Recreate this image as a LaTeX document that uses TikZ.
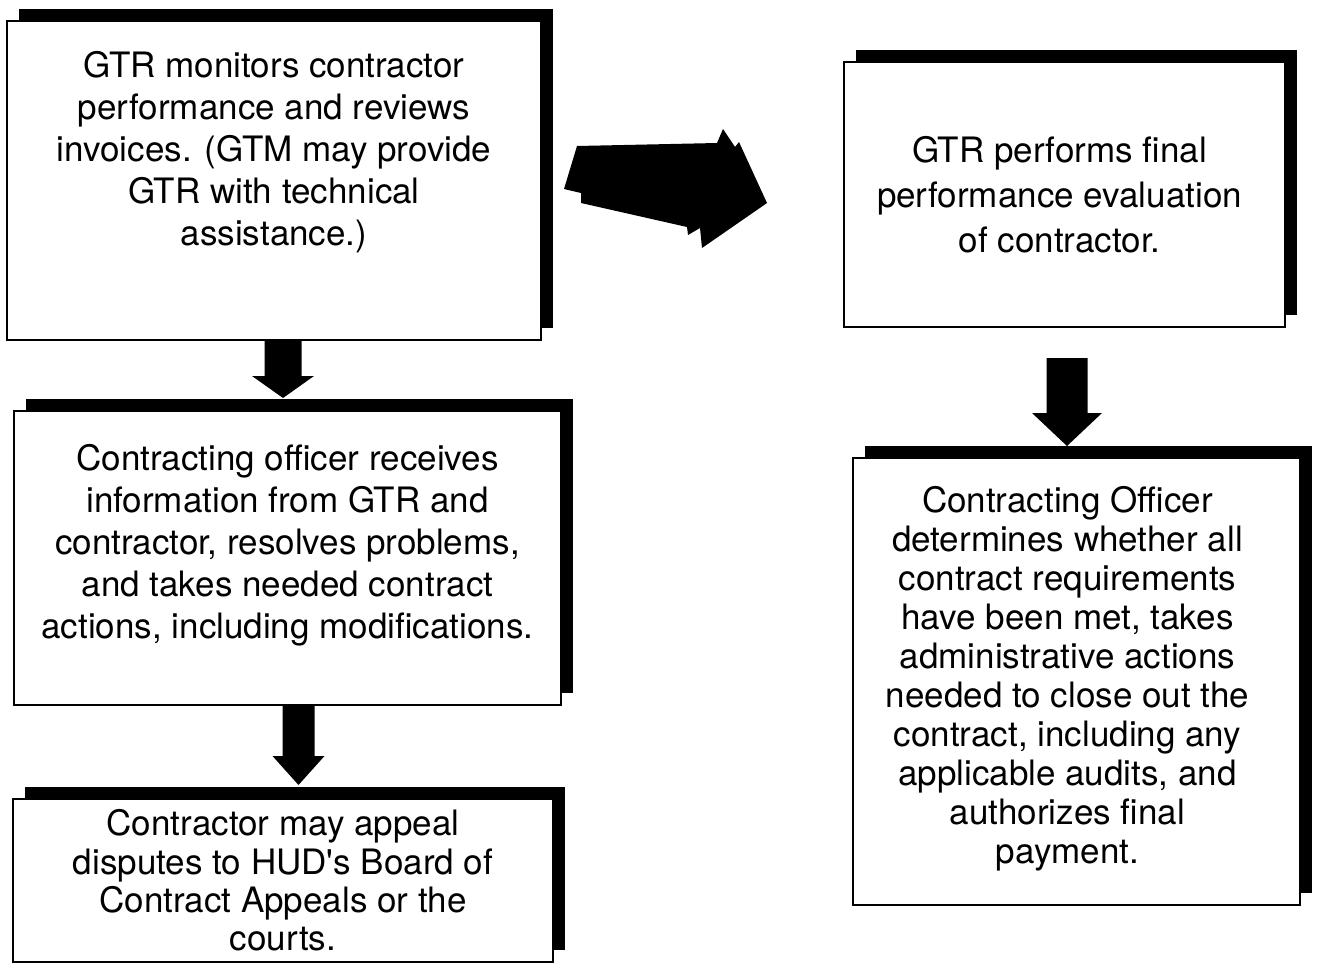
\documentclass[tikz,border=0pt]{standalone}
\usepackage{fontspec}
\setmainfont{TeX Gyre Heros}
\usepackage{tikz}
\usetikzlibrary{calc}
\usetikzlibrary{shadows}
\tikzset{
  card/.style={draw, line width=1.4pt, fill=white, inner sep=0pt, outer sep=0pt, anchor=north west,
    drop shadow={shadow xshift=6pt, shadow yshift=6pt, opacity=1, fill=black}},
  txt/.style={align=center, inner sep=0pt, font=\fontsize{17.5}{21}\selectfont}
}
\newcommand\downblock[5]{
  \fill ($ (#1) + (-#3,0) $) -- ($ (#2) + (-#3,-#5) $) -- ($ (#2) + (-#4,-#5) $) -- (#2)
     -- ($ (#2) + (#4,-#5) $) -- ($ (#2) + (#3,-#5) $) -- ($ (#1) + (#3,0) $) -- cycle;
}
\begin{document}
\begin{tikzpicture}[x=0.5pt,y=-0.5pt]
      \useasboundingbox (0,0) rectangle (1317,964);

      % left column
      \node[card, minimum width=267pt, minimum height=159.5pt] (monitor) at (7,21) {};
      \node[card, minimum width=273.5pt, minimum height=147pt] (review) at (14,411) {};
      \node[card, minimum width=270pt, minimum height=81.5pt] (appeal) at (13,799) {};

      % right column
      \node[card, minimum width=220.5pt, minimum height=132.5pt] (evaluate) at (844,62) {};
      \node[card, minimum width=223.5pt, minimum height=223.5pt] (closeout) at (853,458) {};

      \node[txt] (monitortext) at ($ (monitor.center) + (0,-28) $)
        {GTR monitors contractor\\performance and reviews\\invoices. (GTM may provide\\GTR with technical\\assistance.)};
      \node[txt] (reviewtext) at ($ (review.center) + (0,-13) $)
        {Contracting officer receives\\information from GTR and\\contractor, resolves problems,\\and takes needed contract\\actions, including modifications.};
      \node[txt, font=\fontsize{17.5}{19.2}\selectfont] (appealtext) at (appeal.center)
        {Contractor may appeal\\disputes to HUD\textquotesingle s Board of\\Contract Appeals or the\\courts.};
      \node[txt, font=\fontsize{17.5}{22.5}\selectfont] (evaluatetext) at ($ (evaluate.center) + (-5,0) $)
        {GTR performs final\\performance evaluation\\of contractor.};
      \node[txt, font=\fontsize{17.5}{19.5}\selectfont] (closeouttext) at ($ (closeout.center) + (-9,-3) $)
        {Contracting Officer\\determines whether all\\contract requirements\\have been met, takes\\administrative actions\\needed to close out the\\contract, including any\\applicable audits, and\\authorizes final\\payment.};

      % block arrows
      \coordinate (a1s) at ($ (monitor.south) + (9,0) $);
      \coordinate (a1e) at ($ (a1s |- review.north) + (0,-13) $);
      \downblock{a1s}{a1e}{18.5}{31}{22}

      \coordinate (a2s) at ($ (review.south) + (11,0) $);
      \coordinate (a2e) at ($ (a2s |- appeal.north) + (0,-14) $);
      \downblock{a2s}{a2e}{16}{26}{29}

      \coordinate (a4s) at ($ (evaluate.south) + (2.5,31) $);
      \coordinate (a4e) at ($ (a4s |- closeout.north) + (0,-12) $);
      \downblock{a4s}{a4e}{20.5}{35}{33}

      % big arrow across
      \fill (577,146) -- (717,143) -- (723,129) -- (735,147) -- (739,142) -- (767,203)
        -- (702,248) -- (700,228) -- (688,235) -- (687,227) -- (581,203) -- (581,193)
        -- (564,189) -- cycle;

    \end{tikzpicture}
\end{document}
